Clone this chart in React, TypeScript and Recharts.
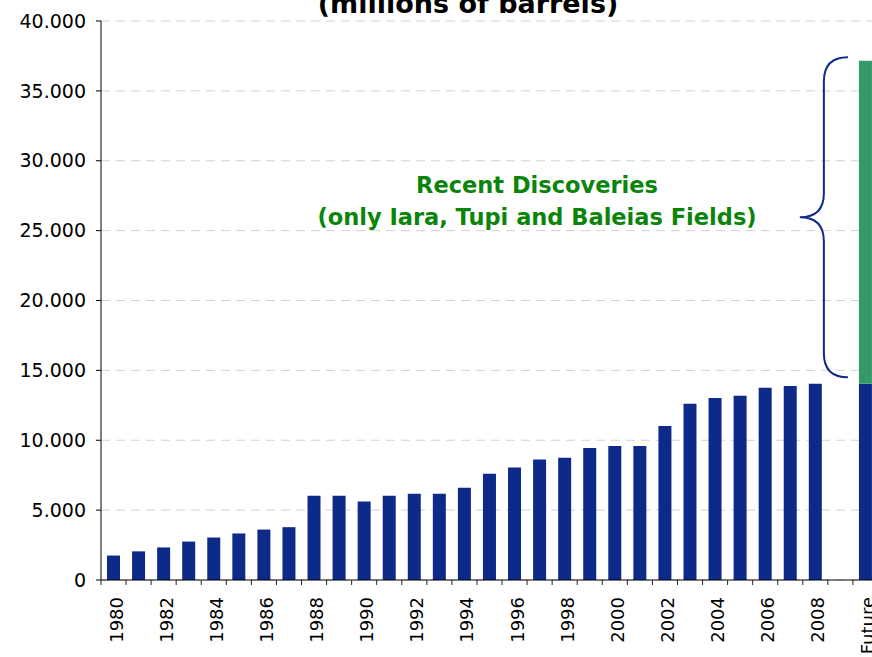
import React from 'react';
import { BarChart, Bar, XAxis, YAxis, CartesianGrid, ReferenceArea } from 'recharts';

const years = [
  '1980', '1981', '1982', '1983', '1984', '1985', '1986', '1987', '1988', '1989',
  '1990', '1991', '1992', '1993', '1994', '1995', '1996', '1997', '1998', '1999',
  '2000', '2001', '2002', '2003', '2004', '2005', '2006', '2007', '2008', '2009', 'Future',
];
const reserves: (number | null)[] = [
  1750, 2050, 2330, 2750, 3040, 3330, 3610, 3780, 6030, 6030,
  5610, 6030, 6170, 6170, 6600, 7600, 8050, 8620, 8740, 9450,
  9590, 9590, 11020, 12610, 13030, 13180, 13750, 13890, 14050, null, 14050,
];
const discoveries: (number | null)[] = [
  null, null, null, null, null, null, null, null, null, null,
  null, null, null, null, null, null, null, null, null, null,
  null, null, null, null, null, null, null, null, null, null, 23100,
];
const yTicks = [0, 5000, 10000, 15000, 20000, 25000, 30000, 35000, 40000];
const titleText = '(millions of barrels)';
const noteLines = ['Recent Discoveries', '(only Iara, Tupi and Baleias Fields)'];
const braceFrom = '2008';
const braceTo = '2009';
const braceLow = 14500;
const braceHigh = 37400;

const NAVY = '#0e2a88';
const GREEN = '#339966';
const NOTE_GREEN = '#0a850a';
const FONT = 'DejaVu Sans';

const data = years.map((year, i) => ({
  year,
  reserves: reserves[i],
  discoveries: discoveries[i],
}));

const fmt = (v: number) => {
  if (v === 0) return '0';
  const th = Math.floor(v / 1000);
  const rest = String(v % 1000).padStart(3, '0');
  return `${th}.${rest}`;
};

const XTick = (props: any) => {
  const { x, y, payload, index } = props;
  const idx = payload?.index ?? index;
  const half = payload?.offset ?? 12.5;
  return (
    <g>
      <line x1={x - half} x2={x - half} y1={y} y2={y + 5} stroke="#222" strokeWidth={1} />
      {idx % 2 === 0 ? (
        <text
          transform={`translate(${x + 2.5},${y + 17}) rotate(-90)`}
          textAnchor="end"
          dy="0.36em"
          fontSize={18}
          fontFamily={FONT}
          fill="#000"
        >
          {payload.value}
        </text>
      ) : null}
    </g>
  );
};

const Brace = (props: any) => {
  const { x, y, width, height } = props;
  const left = x - 3;
  const right = x + width - 5;
  const mid = (left + right) / 2;
  const top = y;
  const bottom = y + height;
  const midY = (top + bottom) / 2;
  const r = right - mid;
  const d = [
    `M ${right} ${top}`,
    `Q ${mid} ${top} ${mid} ${top + r}`,
    `L ${mid} ${midY - r}`,
    `Q ${mid} ${midY} ${left} ${midY}`,
    `Q ${mid} ${midY} ${mid} ${midY + r}`,
    `L ${mid} ${bottom - r}`,
    `Q ${mid} ${bottom} ${right} ${bottom}`,
  ].join(' ');
  return <path d={d} fill="none" stroke={NAVY} strokeWidth={2} />;
};

export default function App() {
  return (
    <div style={{ position: 'absolute', top: -22, left: 0, width: 872, height: 679, overflow: 'hidden', background: '#fff' }}>
      <BarChart
        width={890}
        height={679}
        data={data}
        margin={{ top: 43, right: 12, bottom: 0, left: 0 }}
        barSize={13}
      >
        <CartesianGrid vertical={false} stroke="#d2d2d2" strokeDasharray="9 6" />
        <XAxis
          dataKey="year"
          interval={0}
          height={77}
          tickSize={0}
          tickMargin={0}
          tickLine={false}
          axisLine={{ stroke: '#000' }}
          tick={<XTick />}
        />
        <YAxis
          width={101}
          domain={[0, 40000]}
          ticks={yTicks}
          tickFormatter={fmt}
          tickSize={5}
          tickMargin={10}
          axisLine={{ stroke: '#000' }}
          tickLine={{ stroke: '#000' }}
          tick={{ fontSize: 19, fill: '#000', fontFamily: FONT }}
          allowDataOverflow
        />
        <Bar dataKey="reserves" stackId="s" fill={NAVY} isAnimationActive={false} />
        <Bar dataKey="discoveries" stackId="s" fill={GREEN} isAnimationActive={false} />
        <ReferenceArea
          x1={braceFrom}
          x2={braceTo}
          y1={braceLow}
          y2={braceHigh}
          shape={<Brace />}
          ifOverflow="visible"
        />
      </BarChart>
      <svg
        width={872}
        height={679}
        style={{ position: 'absolute', top: 0, left: 0, pointerEvents: 'none' }}
      >
        <text x={468} y={35} textAnchor="middle" fontSize={27} fontWeight="bold" fontFamily={FONT} fill="#000">
          {titleText}
        </text>
        {noteLines.map((line, i) => (
          <text
            key={line}
            x={537}
            y={215 + i * 32}
            textAnchor="middle"
            fontSize={22.5}
            fontWeight="bold"
            fontFamily={FONT}
            fill={NOTE_GREEN}
          >
            {line}
          </text>
        ))}
      </svg>
    </div>
  );
}
